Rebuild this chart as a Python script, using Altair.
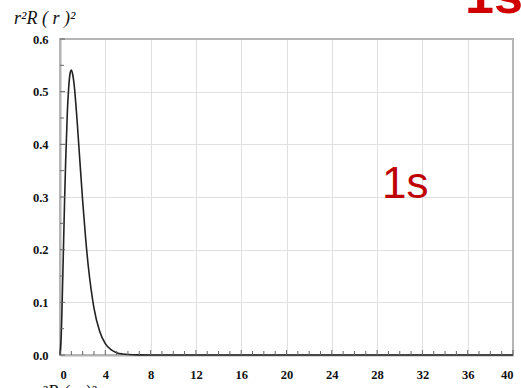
import altair as alt
import pandas as pd

# curve: r and r^2 R(r)^2
r_vals = [0, 0.1, 0.25, 0.4, 0.5, 0.65, 0.75, 0.9, 1.0, 1.1, 1.25, 1.5, 1.75, 2.0, 2.25, 2.5,
          2.75, 3.0, 3.5, 4.0, 4.5, 5.0, 5.5, 6.0, 7.0, 8.0, 12, 20, 30, 40]
p_vals = [0, 0.033, 0.152, 0.289, 0.368, 0.462, 0.502, 0.536, 0.541, 0.535, 0.513, 0.448,
          0.370, 0.293, 0.225, 0.168, 0.124, 0.089, 0.045, 0.0215, 0.010, 0.0045, 0.0020,
          0.0009, 0.0002, 0.0, 0.0, 0.0, 0.0, 0.0]

x_ticks = [0, 4, 8, 12, 16, 20, 24, 28, 32, 36, 40]
y_ticks = [0.0, 0.1, 0.2, 0.3, 0.4, 0.5, 0.6]
x_minor = [v for v in range(0, 41) if v % 4 != 0]
y_minor = [0.05, 0.15, 0.25, 0.35, 0.45, 0.55]

W, H = 453, 316

df = pd.DataFrame({"r": r_vals, "p": p_vals})
xs = alt.Scale(domain=[0, 40], nice=False)
ys = alt.Scale(domain=[0, 0.6], nice=False)

axis_common = dict(
    labelFont="Liberation Serif", labelFontWeight="bold", labelFontSize=12.5,
    labelColor="#111", domainColor="#666", domainWidth=1.5, ticks=False,
    gridColor="#e0e0e0", gridWidth=1, title=None,
)

line = alt.Chart(df).mark_line(color="#222", strokeWidth=1.6, interpolate="monotone").encode(
    x=alt.X("r:Q", scale=xs, axis=alt.Axis(values=x_ticks, labelPadding=13, format="d", **axis_common)),
    y=alt.Y("p:Q", scale=ys, axis=alt.Axis(values=y_ticks, labelPadding=12, format=".1f", **axis_common)),
)

# frame top/right
frame = alt.Chart(pd.DataFrame({"a": [0]})).mark_rect(
    fill=None, stroke="#b5b5b5", strokeWidth=2
).encode(x=alt.value(0), x2=alt.value(W), y=alt.value(0), y2=alt.value(H))

# inside ticks
xt_major = alt.Chart(pd.DataFrame({"t": x_ticks})).mark_rule(color="#666", strokeWidth=1).encode(
    x=alt.X("t:Q", scale=xs), y=alt.value(H), y2=alt.value(H - 5))
xt_minor = alt.Chart(pd.DataFrame({"t": x_minor})).mark_rule(color="#666", strokeWidth=1).encode(
    x=alt.X("t:Q", scale=xs), y=alt.value(H), y2=alt.value(H - 4))
yt_major = alt.Chart(pd.DataFrame({"t": y_ticks})).mark_rule(color="#666", strokeWidth=1).encode(
    y=alt.Y("t:Q", scale=ys), x=alt.value(0), x2=alt.value(5))
yt_minor = alt.Chart(pd.DataFrame({"t": y_minor})).mark_rule(color="#666", strokeWidth=1).encode(
    y=alt.Y("t:Q", scale=ys), x=alt.value(0), x2=alt.value(4))

# texts
title_txt = alt.Chart(pd.DataFrame({"s": ["r²R ( r )²"]})).mark_text(
    font="Liberation Serif", fontStyle="italic", fontSize=18, align="left", baseline="alphabetic",
    color="#111"
).encode(text="s:N", x=alt.value(-46), y=alt.value(-15))

label_1s = alt.Chart(pd.DataFrame({"s": ["1s"]})).mark_text(
    font="Liberation Sans", fontSize=44, align="left", baseline="alphabetic", color="#c00000"
).encode(text="s:N", x=alt.value(322), y=alt.value(159))

corner_red = alt.Chart(pd.DataFrame({"s": ["1s"]})).mark_text(
    font="Liberation Sans", fontSize=52, fontWeight="bold", align="left", baseline="alphabetic",
    color="#d00000"
).encode(text="s:N", x=alt.value(405), y=alt.value(-26))

bottom_txt = alt.Chart(pd.DataFrame({"s": ["r²R ( r )²"]})).mark_text(
    font="Liberation Serif", fontStyle="italic", fontSize=18, align="left", baseline="top",
    color="#111"
).encode(text="s:N", x=alt.value(-25), y=alt.value(H + 29))

chart = alt.layer(
    frame, line, xt_major, xt_minor, yt_major, yt_minor, title_txt, label_1s, corner_red, bottom_txt
).properties(
    width=W, height=H,
    autosize=alt.AutoSizeParams(type="none"),
    padding={"left": 60, "top": 39, "right": 8, "bottom": 33},
).configure_view(stroke=None).configure_axis(grid=True)

chart.save("out.html", embed_options={"renderer": "svg", "actions": False})
